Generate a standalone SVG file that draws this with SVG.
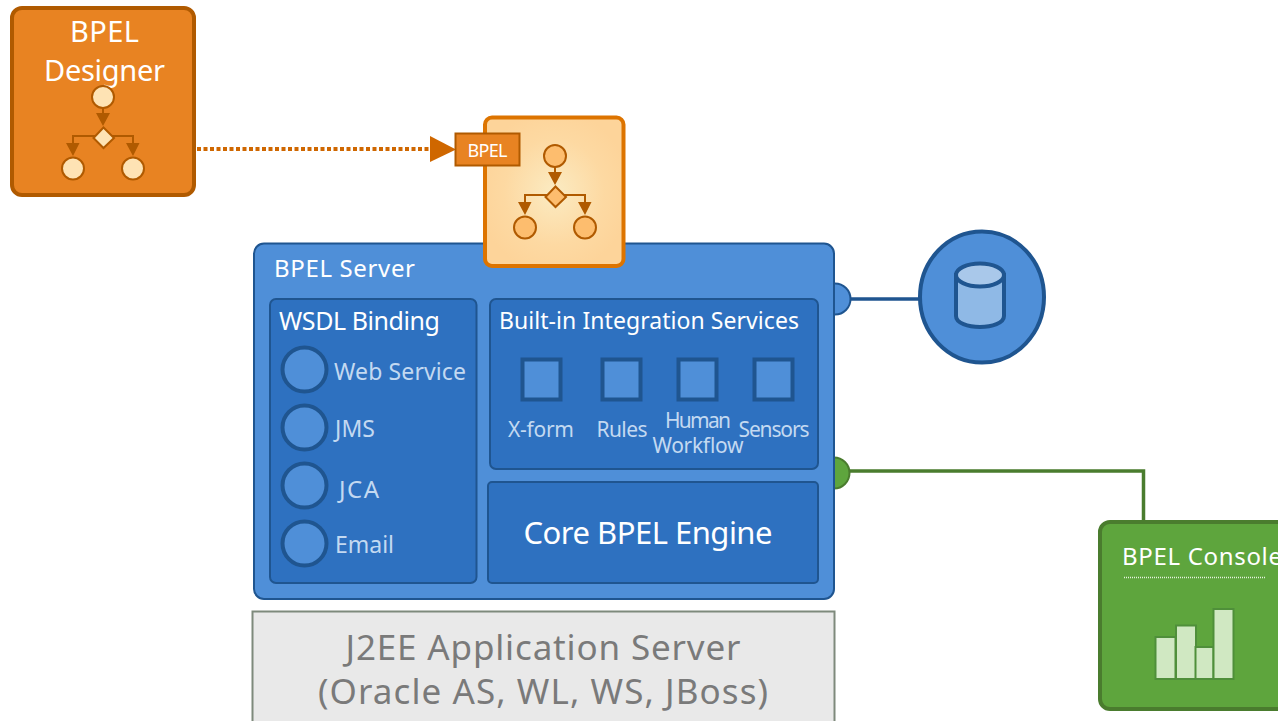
<svg xmlns="http://www.w3.org/2000/svg" width="1278" height="721" viewBox="0 0 1278 721">
<style>
text{font-family:"Noto Sans","Open Sans","Liberation Sans",sans-serif}
.w{fill:#fff}.l{fill:#c3d9f1}.g{fill:#7a7a7a}
.inner{fill:#2e71c0;stroke:#1f5590;stroke-width:2}
.circ{fill:#4f8fd8;stroke:#1f5590;stroke-width:4}
.sq{fill:#4f8fd8;stroke:#1f5590;stroke-width:4}
.bar{fill:#d0e8c2;stroke:#4f8f3a;stroke-width:2}
.fl{stroke:#b05a00;stroke-width:2;fill:none}
.fh{fill:#b05a00}
.s{stroke:#b05a00;stroke-width:2}
.f1{fill:#fee3b4}
.f2{fill:#fdbd6e}
</style>
<defs>
<radialGradient id="pg" cx="0.5" cy="0.5" r="0.55"><stop offset="0" stop-color="#fbebc2"/><stop offset="0.65" stop-color="#fdd9a2"/><stop offset="1" stop-color="#fdd49a"/></radialGradient>
<g id="flow">
<path class="fl" d="M103 108V116M73 145V136H133V145"/>
<path class="fh" d="M96 113H110L103 126ZM66 143H79.500L73 156ZM126 143H139.500L133 156Z"/>
<circle class="s" cx="103" cy="97" r="11"/>
<path class="s" d="M103.500 127.500L114 138L103.500 148L93.500 138Z"/>
<circle class="s" cx="73" cy="168.500" r="11"/>
<circle class="s" cx="133" cy="168.500" r="11"/>
</g>
</defs>
<g id="connectors">
<path d="M197 149H432" stroke="#cf6700" stroke-width="4" stroke-dasharray="4 2.500" fill="none"/>
<path d="M430 136L456 149.500L430 162Z" fill="#cf6700"/>
<path d="M848 299H922" stroke="#1f5590" stroke-width="3.500" fill="none"/>
<path d="M848 471H1143.500V522" stroke="#4a7c2e" stroke-width="3.500" fill="none"/>
</g>
<g id="j2ee">
<rect x="252.500" y="611.500" width="582" height="125" fill="#e9e9e9" stroke="#7e8a7c" stroke-width="2"/>
<text class="g" x="543" y="660" font-size="35" text-anchor="middle" textLength="395">J2EE Application Server</text>
<text class="g" x="543" y="704" font-size="35" text-anchor="middle" textLength="450">(Oracle AS, WL, WS, JBoss)</text>
</g>
<g id="port-db"><circle cx="835" cy="299" r="15.500" fill="#4f8fd8" stroke="#1f5590" stroke-width="2"/></g>
<g id="port-console"><circle cx="834" cy="473" r="15.500" fill="#5ea53d" stroke="#4a7c2e" stroke-width="2"/></g>
<g id="bpel-server">
<rect x="254" y="243.500" width="580" height="355.500" rx="10" fill="#4f8fd8" stroke="#1f5590" stroke-width="2"/>
<text class="w" x="274" y="276.500" font-size="24" textLength="141">BPEL Server</text>
</g>
<g id="wsdl-binding">
<rect class="inner" x="270" y="299" width="206.500" height="284" rx="6"/>
<text class="w" x="279" y="329.500" font-size="25" textLength="161">WSDL Binding</text>
<circle class="circ" cx="304.500" cy="369.500" r="22"/>
<circle class="circ" cx="304.500" cy="427.500" r="22"/>
<circle class="circ" cx="304.500" cy="485.500" r="22"/>
<circle class="circ" cx="304.500" cy="543.500" r="22"/>
<text class="l" x="334" y="380" font-size="23" textLength="132">Web Service</text>
<text class="l" x="335" y="437" font-size="23" textLength="40">JMS</text>
<text class="l" x="339" y="498" font-size="24" textLength="40">JCA</text>
<text class="l" x="335" y="553" font-size="23" textLength="59">Email</text>
</g>
<g id="integration-services">
<rect class="inner" x="490" y="299" width="328" height="170" rx="6"/>
<text class="w" x="499" y="329" font-size="23" textLength="300">Built-in Integration Services</text>
<rect class="sq" x="522.500" y="359.500" width="38" height="40"/>
<rect class="sq" x="602.500" y="359.500" width="38" height="40"/>
<rect class="sq" x="678.500" y="359.500" width="38" height="40"/>
<rect class="sq" x="754.500" y="359.500" width="38" height="40"/>
<text class="l" x="541" y="437" font-size="21" text-anchor="middle" textLength="66">X-form</text>
<text class="l" x="622" y="437" font-size="21" text-anchor="middle" textLength="51">Rules</text>
<text class="l" x="698" y="428" font-size="21" text-anchor="middle" textLength="66">Human</text>
<text class="l" x="698" y="453" font-size="21" text-anchor="middle" textLength="91">Workflow</text>
<text class="l" x="774" y="437" font-size="21" text-anchor="middle" textLength="71">Sensors</text>
</g>
<g id="core-engine">
<rect class="inner" x="488" y="482" width="330" height="101" rx="4"/>
<text class="w" x="648" y="544" font-size="31" text-anchor="middle" textLength="249">Core BPEL Engine</text>
</g>
<g id="bpel-process">
<rect x="485" y="117.500" width="138.500" height="148.500" rx="7" fill="url(#pg)" stroke="#dd7400" stroke-width="4"/>
<use href="#flow" class="f2" x="452" y="59"/>
<rect x="455.500" y="133.500" width="64" height="32" fill="#e88322" stroke="#b05a00" stroke-width="2"/>
<text class="w" x="487.500" y="157" font-size="18" text-anchor="middle" textLength="40">BPEL</text>
</g>
<g id="bpel-designer">
<rect x="12" y="8" width="182" height="187" rx="10" fill="#e88322" stroke="#b05a00" stroke-width="4"/>
<text class="w" x="104.500" y="42" font-size="29" text-anchor="middle" textLength="69">BPEL</text>
<text class="w" x="104.500" y="80.500" font-size="29" text-anchor="middle" textLength="121">Designer</text>
<use href="#flow" class="f1"/>
</g>
<g id="database">
<ellipse cx="982" cy="297" rx="62" ry="65.500" fill="#4f8fd8" stroke="#1f5590" stroke-width="4"/>
<path d="M956 275V316C956 323 968 327 980 327S1004 323 1004 316V275Z" fill="#8fb9e6" stroke="#1f5590" stroke-width="4"/>
<ellipse cx="980" cy="275" rx="24" ry="11.500" fill="#a9c8ea" stroke="#1f5590" stroke-width="4"/>
</g>
<g id="bpel-console">
<rect x="1100" y="522" width="200" height="187" rx="10" fill="#5ea53d" stroke="#4a7c2e" stroke-width="4"/>
<text class="w" x="1122" y="564.500" font-size="24" textLength="160">BPEL Console</text>
<path d="M1124 577.500H1266" stroke="#e6f2de" stroke-width="1.500" stroke-dasharray="1 1" fill="none"/>
<rect class="bar" x="1155.500" y="637" width="20" height="42"/>
<rect class="bar" x="1176" y="625.500" width="20" height="53.500"/>
<rect class="bar" x="1195.500" y="647" width="18" height="32"/>
<rect class="bar" x="1213.500" y="609" width="20" height="70"/>
</g>
</svg>
